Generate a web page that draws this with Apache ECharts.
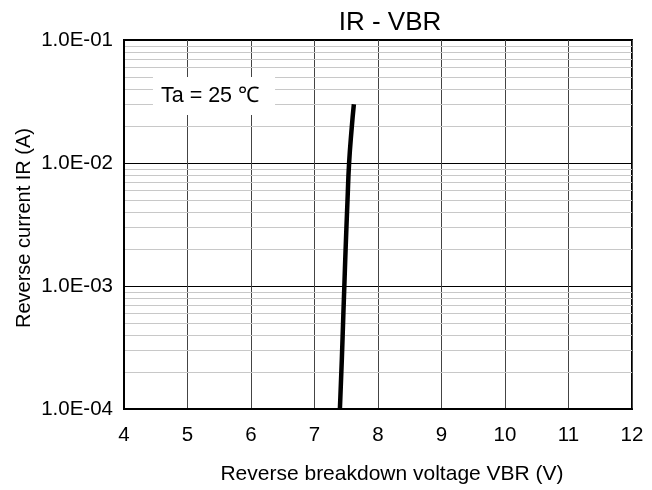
<!DOCTYPE html>
<html>
<head>
<meta charset="utf-8">
<script src="https://cdn.jsdelivr.net/npm/echarts@6/dist/echarts.min.js"></script>
<style>
  html, body { margin: 0; padding: 0; background: #fff; }
  #chart { width: 652px; height: 490px; }
</style>
</head>
<body>
<div id="chart"></div>
<script>
// IR - VBR curve
const vbr = [7.40, 7.43, 7.455, 7.47, 7.49, 7.52, 7.545, 7.585, 7.62];
const ir = [1e-4, 2.5e-4, 6e-4, 1e-3, 2e-3, 5e-3, 1e-2, 1.9e-2, 3e-2];

// log minor grid levels (2..9 of each decade)
const minorLevels = [
    2e-4, 3e-4, 4e-4, 5e-4, 6e-4, 7e-4, 8e-4, 9e-4,
    2e-3, 3e-3, 4e-3, 5e-3, 6e-3, 7e-3, 8e-3, 9e-3,
    2e-2, 3e-2, 4e-2, 5e-2, 6e-2, 7e-2, 8e-2, 9e-2
];

const xMin = 4, xMax = 12;
const font = 'Liberation Sans, Arial, sans-serif';

let myChart = echarts.init(document.getElementById('chart'));

let points = [];
for (let i = 0; i < vbr.length; i++) {
    points.push([vbr[i], ir[i]]);
}

// 1.0E-04 style labels
function sciLabel(v) {
    let e = Math.round(Math.log10(v));
    return '1.0E' + (e < 0 ? '-' : '+') + String(Math.abs(e)).padStart(2, '0');
}

// horizontal minor grid line across the plot
function minorLine(params, api) {
    let v = api.value(0);
    let p1 = api.coord([xMin, v]);
    let p2 = api.coord([xMax, v]);
    return {
        type: 'line',
        shape: { x1: p1[0], y1: Math.round(p1[1]) + 0.5, x2: p2[0], y2: Math.round(p2[1]) + 0.5 },
        style: { stroke: '#c8c8c8', lineWidth: 1 }
    };
}

let option = {
    backgroundColor: '#fff',
    animation: false,
    title: {
        text: 'IR - VBR',
        left: 385,
        top: 5,
        textAlign: 'center',
        textStyle: { fontFamily: font, fontSize: 26, fontWeight: 'normal', color: '#000' }
    },
    grid: {
        left: 124,
        right: 20,
        top: 40,
        bottom: 81,
        show: true,
        borderColor: '#000',
        borderWidth: 2
    },
    xAxis: {
        type: 'value',
        min: xMin,
        max: xMax,
        interval: 1,
        name: 'Reverse breakdown voltage VBR (V)',
        nameLocation: 'middle',
        nameGap: 55,
        nameTextStyle: { fontFamily: font, fontSize: 21, color: '#000', padding: [0, 0, 0, 28] },
        axisLine: { show: true, lineStyle: { color: '#000', width: 2 } },
        axisTick: { show: false },
        axisLabel: { fontFamily: font, fontSize: 20.5, color: '#000', margin: 16 },
        splitLine: { show: true, lineStyle: { color: '#444', width: 1 } }
    },
    yAxis: {
        type: 'log',
        logBase: 10,
        min: 1e-4,
        max: 1e-1,
        axisLine: { show: true, lineStyle: { color: '#000', width: 2 } },
        axisTick: { show: false },
        axisLabel: { fontFamily: font, fontSize: 20.5, color: '#000', margin: 11, formatter: sciLabel },
        splitLine: { show: true, lineStyle: { color: '#000', width: 1 } }
    },
    graphic: [{
        type: 'text',
        x: 24,
        y: 228,
        rotation: Math.PI / 2,
        style: {
            text: 'Reverse current IR (A)',
            fontFamily: font,
            fontSize: 20,
            fill: '#000',
            align: 'center',
            verticalAlign: 'middle'
        }
    }, {
        type: 'text',
        x: 214,
        y: 96,
        z: 100,
        style: {
            text: 'Ta = 25 \u2103',
            fontFamily: font,
            fontSize: 21.5,
            fill: '#000',
            align: 'center',
            verticalAlign: 'middle',
            backgroundColor: '#fff',
            padding: [8, 16, 8, 8]
        }
    }],
    series: [{
        type: 'custom',
        data: minorLevels.map(function (v) { return [v]; }),
        encode: { y: 0 },
        renderItem: minorLine,
        silent: true,
        z: 0
    }, {
        type: 'line',
        data: points,
        smooth: true,
        showSymbol: false,
        lineStyle: { color: '#000', width: 4.5 },
        z: 10
    }]
};
myChart.setOption(option);
</script>
</body>
</html>
